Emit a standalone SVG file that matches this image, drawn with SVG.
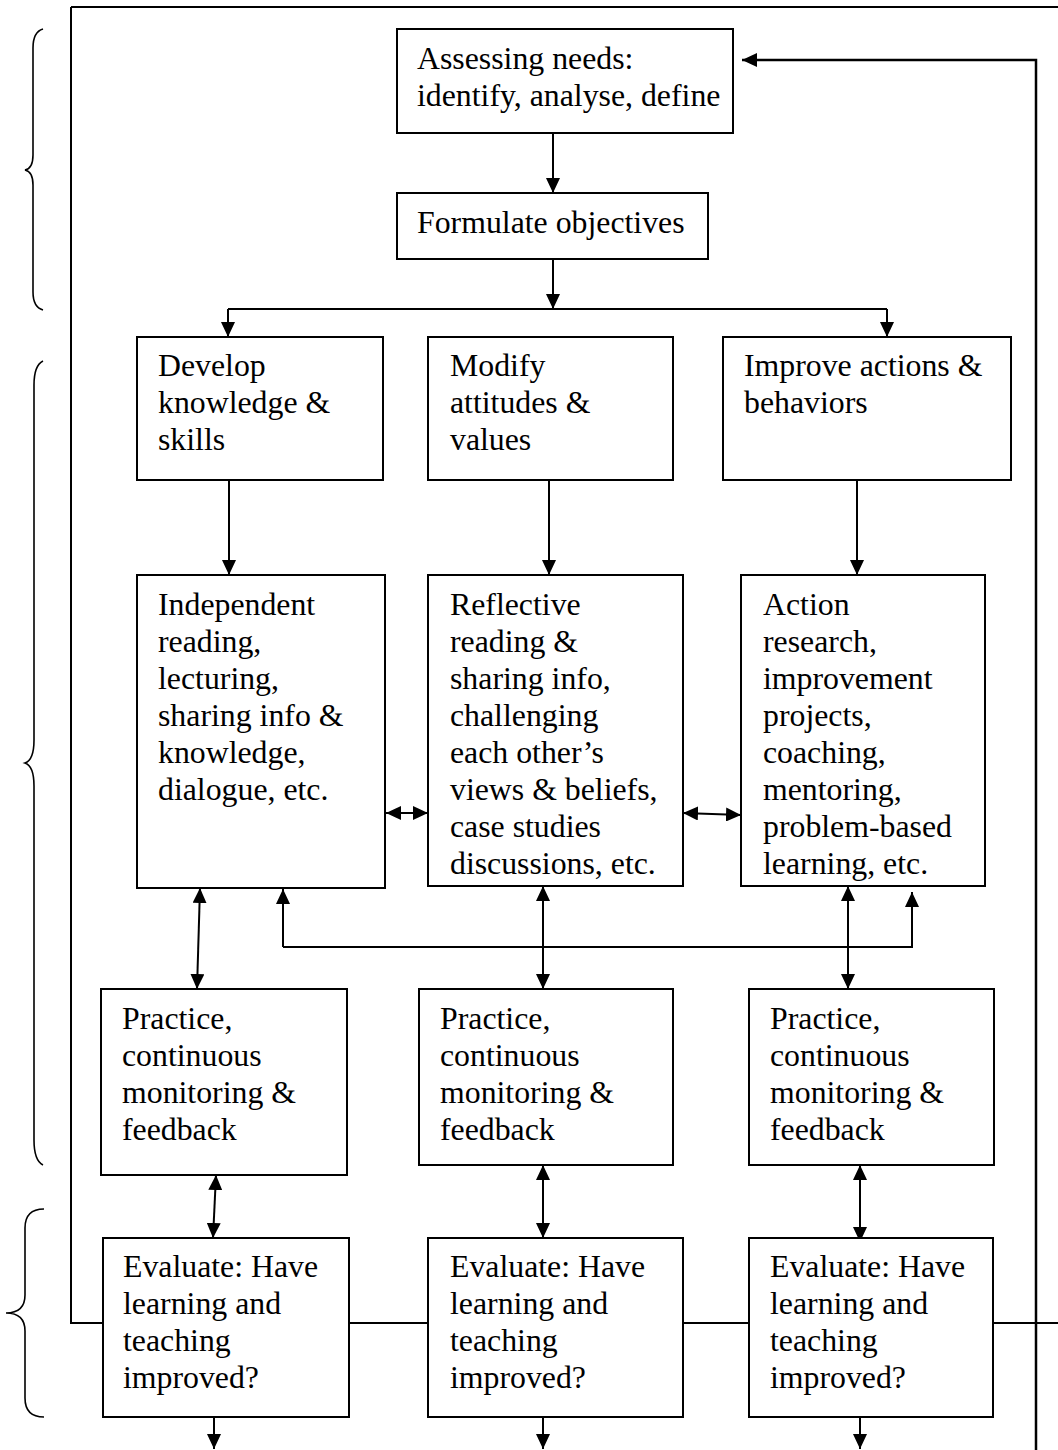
<svg xmlns="http://www.w3.org/2000/svg" width="1058" height="1450" viewBox="0 0 1058 1450">
<defs>
<marker id="ah" markerWidth="15" markerHeight="14" refX="15" refY="7" orient="auto-start-reverse" markerUnits="userSpaceOnUse">
<path d="M0,0 L15,7 L0,14 z" fill="#000"/>
</marker>
<style>
.box{fill:#fff;stroke:#000;stroke-width:2}
.ln{fill:none;stroke:#000;stroke-width:2}
.ar{fill:none;stroke:#000;stroke-width:2;marker-end:url(#ah)}
.da{fill:none;stroke:#000;stroke-width:2;marker-start:url(#ah);marker-end:url(#ah)}
.br{fill:none;stroke:#000;stroke-width:1.6}
text{font-family:"Liberation Serif","Times New Roman",serif;font-size:31.8px;fill:#000}
</style>
</defs>
<rect width="1058" height="1450" fill="#fff"/>

<g id="braces">
<path class="br" d="M43,29 C36,31 33,38 33,48 L33,155 C33,164 30,169 25,170 C30,171 33,176 33,185 L33,292 C33,302 36,308 43,310"/>
<path class="br" d="M43,361 C37,364 34,372 34,385 L34,740 C34,754 31,761 25,763 C31,765 34,772 34,786 L34,1140 C34,1153 37,1162 43,1165"/>
<path class="br" d="M44,1209 C32,1209 25,1215 25,1228 L25,1295 C25,1307 18,1313 6,1313 C18,1313 25,1319 25,1331 L25,1398 C25,1411 32,1417 44,1417"/>
</g>

<g id="connectors">
<path class="ln" d="M71,7 L1058,7 M71,7 L71,1323 L1058,1323"/>
<path class="ar" d="M1036,1450 L1036,60 L742,60" style="stroke-width:2.5"/>
<path class="ar" d="M553,133 L553,193"/>
<path class="ar" d="M553,259 L553,309"/>
<path class="ln" d="M228,309 L887,309"/>
<path class="ar" d="M228,309 L228,337"/>
<path class="ar" d="M887,309 L887,337"/>
<path class="ar" d="M229,480 L229,575"/>
<path class="ar" d="M549,480 L549,575"/>
<path class="ar" d="M857,480 L857,575"/>
<path class="da" d="M386,813 L428,813"/>
<path class="da" d="M683,813 L741,815"/>
<path class="da" d="M200,888 L197,989"/>
<path class="da" d="M543,886 L543,989"/>
<path class="da" d="M848,886 L848,989"/>
<path class="ar" d="M283,947 L283,889"/>
<path class="ar" d="M283,947 L912,947 L912,892"/>
<path class="da" d="M216,1175 L213,1238"/>
<path class="da" d="M543,1165 L543,1238"/>
<path class="da" d="M860,1165 L860,1242"/>
<path class="ar" d="M214,1417 L214,1449"/>
<path class="ar" d="M543,1417 L543,1449"/>
<path class="ar" d="M860,1417 L860,1449"/>
</g>

<g id="assess">
<rect class="box" x="397" y="29" width="336" height="104"/>
<text x="417" y="69">Assessing needs:</text>
<text x="417" y="106">identify, analyse, define</text>
</g>
<g id="formulate">
<rect class="box" x="397" y="193" width="311" height="66"/>
<text x="417" y="233">Formulate objectives</text>
</g>

<g id="develop">
<rect class="box" x="137" y="337" width="246" height="143"/>
<text x="158" y="376">Develop</text>
<text x="158" y="413">knowledge &amp;</text>
<text x="158" y="450">skills</text>
</g>
<g id="modify">
<rect class="box" x="428" y="337" width="245" height="143"/>
<text x="450" y="376">Modify</text>
<text x="450" y="413">attitudes &amp;</text>
<text x="450" y="450">values</text>
</g>
<g id="improve">
<rect class="box" x="723" y="337" width="288" height="143"/>
<text x="744" y="376">Improve actions &amp;</text>
<text x="744" y="413">behaviors</text>
</g>

<g id="independent">
<rect class="box" x="137" y="575" width="248" height="313"/>
<text x="158" y="615">Independent</text>
<text x="158" y="652">reading,</text>
<text x="158" y="689">lecturing,</text>
<text x="158" y="726">sharing info &amp;</text>
<text x="158" y="763">knowledge,</text>
<text x="158" y="800">dialogue, etc.</text>
</g>
<g id="reflective">
<rect class="box" x="428" y="575" width="255" height="311"/>
<text x="450" y="615">Reflective</text>
<text x="450" y="652">reading &amp;</text>
<text x="450" y="689">sharing info,</text>
<text x="450" y="726">challenging</text>
<text x="450" y="763">each other’s</text>
<text x="450" y="800">views &amp; beliefs,</text>
<text x="450" y="837">case studies</text>
<text x="450" y="874">discussions, etc.</text>
</g>
<g id="action">
<rect class="box" x="741" y="575" width="244" height="311"/>
<text x="763" y="615">Action</text>
<text x="763" y="652">research,</text>
<text x="763" y="689">improvement</text>
<text x="763" y="726">projects,</text>
<text x="763" y="763">coaching,</text>
<text x="763" y="800">mentoring,</text>
<text x="763" y="837">problem-based</text>
<text x="763" y="874">learning, etc.</text>
</g>

<g id="practice1">
<rect class="box" x="101" y="989" width="246" height="186"/>
<text x="122" y="1029">Practice,</text>
<text x="122" y="1066">continuous</text>
<text x="122" y="1103">monitoring &amp;</text>
<text x="122" y="1140">feedback</text>
</g>
<g id="practice2">
<rect class="box" x="419" y="989" width="254" height="176"/>
<text x="440" y="1029">Practice,</text>
<text x="440" y="1066">continuous</text>
<text x="440" y="1103">monitoring &amp;</text>
<text x="440" y="1140">feedback</text>
</g>
<g id="practice3">
<rect class="box" x="749" y="989" width="245" height="176"/>
<text x="770" y="1029">Practice,</text>
<text x="770" y="1066">continuous</text>
<text x="770" y="1103">monitoring &amp;</text>
<text x="770" y="1140">feedback</text>
</g>

<g id="evaluate1">
<rect class="box" x="103" y="1238" width="246" height="179"/>
<text x="123" y="1277">Evaluate: Have</text>
<text x="123" y="1314">learning and</text>
<text x="123" y="1351">teaching</text>
<text x="123" y="1388">improved?</text>
</g>
<g id="evaluate2">
<rect class="box" x="428" y="1238" width="255" height="179"/>
<text x="450" y="1277">Evaluate: Have</text>
<text x="450" y="1314">learning and</text>
<text x="450" y="1351">teaching</text>
<text x="450" y="1388">improved?</text>
</g>
<g id="evaluate3">
<rect class="box" x="749" y="1238" width="244" height="179"/>
<text x="770" y="1277">Evaluate: Have</text>
<text x="770" y="1314">learning and</text>
<text x="770" y="1351">teaching</text>
<text x="770" y="1388">improved?</text>
</g>
</svg>
